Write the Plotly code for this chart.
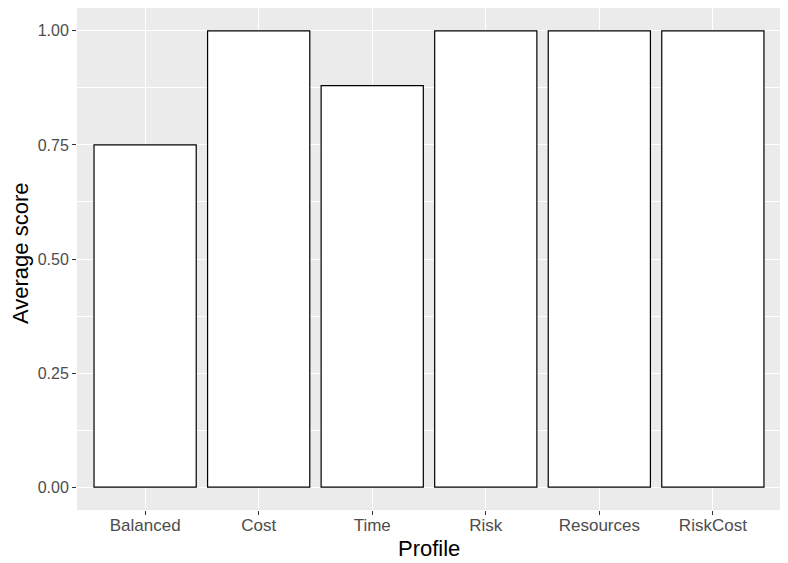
import plotly.graph_objects as go

profiles = ["Balanced", "Cost", "Time", "Risk", "Resources", "RiskCost"]
scores = [0.75, 1.0, 0.88, 1.0, 1.0, 1.0]
y_ticks = [0.0, 0.25, 0.5, 0.75, 1.0]
y_tick_labels = ["0.00", "0.25", "0.50", "0.75", "1.00"]

fig = go.Figure(go.Bar(
    x=profiles, y=scores, width=0.9,
    marker=dict(color="white", line=dict(color="black", width=1.2)),
))

# The page body has an 8px default margin, so the figure is sized/offset to compensate.
font_family = "Liberation Sans, Arial, sans-serif"
fig.update_layout(
    width=780, height=555,
    margin=dict(l=69, r=7, t=0, b=53, autoexpand=False),
    paper_bgcolor="white", plot_bgcolor="#EBEBEB",
    showlegend=False,
    font=dict(family=font_family, color="#4D4D4D", size=16),
)
fig.update_xaxes(
    range=[-0.6, 5.6], showgrid=True, gridcolor="white", gridwidth=1.1,
    ticks="outside", ticklen=4, tickcolor="#333333", tickwidth=1,
    tickfont=dict(size=17, color="#4D4D4D"), ticklabelstandoff=-4,
    automargin=False, zeroline=False, showline=False,
)
fig.update_yaxes(
    range=[-0.05, 1.05], tickvals=y_ticks, ticktext=y_tick_labels,
    showgrid=True, gridcolor="white", gridwidth=1.1,
    minor=dict(dtick=0.125, tick0=0.125, showgrid=True, gridcolor="white", gridwidth=0.5, ticks=""),
    ticks="outside", ticklen=4, tickcolor="#333333", tickwidth=1,
    tickfont=dict(size=16, color="#4D4D4D"),
    automargin=False, zeroline=False, showline=False,
)
fig.add_annotation(text="Profile", xref="paper", yref="paper", x=0.5, y=0,
                   yshift=-38, xanchor="center", yanchor="middle", showarrow=False,
                   font=dict(size=22, color="black"))
fig.add_annotation(text="Average score", xref="paper", yref="paper", x=0, y=0.51,
                   xshift=-56, xanchor="center", yanchor="middle", textangle=-90,
                   showarrow=False, font=dict(size=22, color="black"))
fig.write_html("out.html")
